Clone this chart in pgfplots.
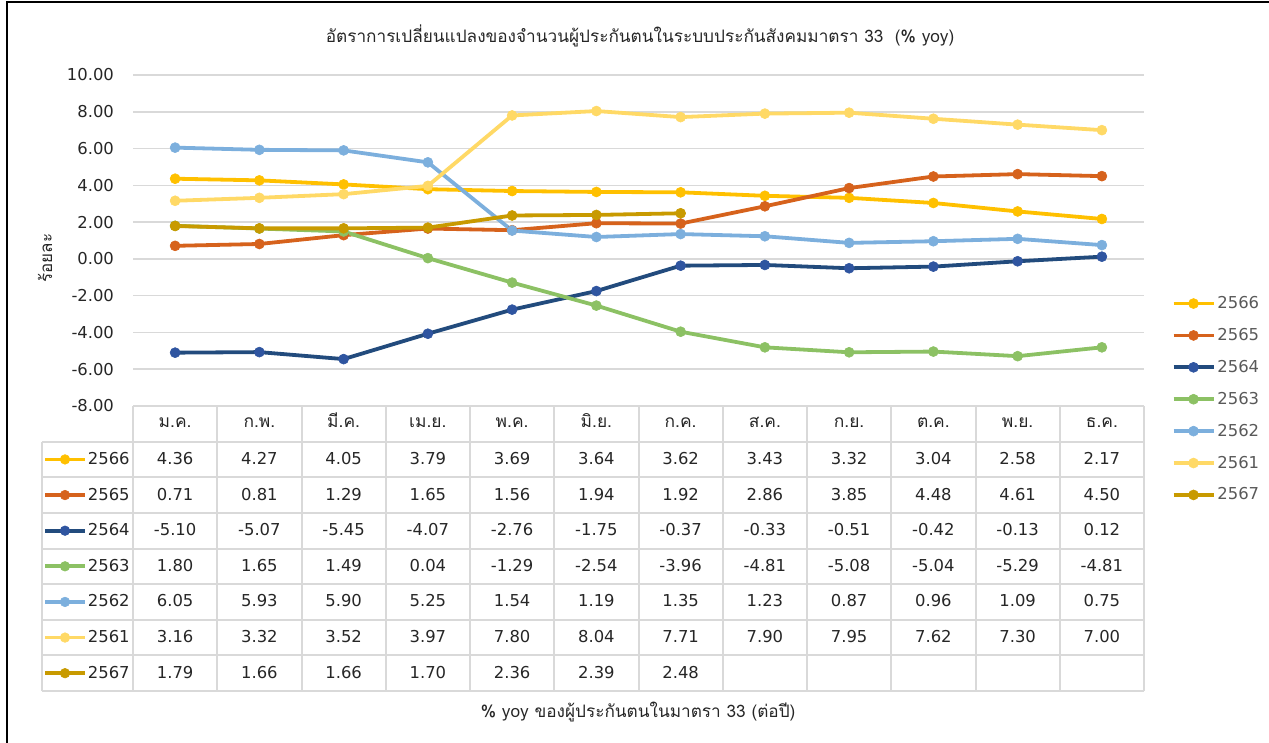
\documentclass[border=0pt]{standalone}
\usepackage{fontspec}
\setmainfont{DejaVu Sans}
\newfontfamily\thaifont[Script=Thai]{Loma}
\usepackage{pgfplots}
\usepackage{pgfplotstable}
\pgfplotsset{compat=1.18}

\definecolor{cA}{RGB}{255,192,0}    % 2566
\definecolor{cB}{RGB}{214,98,28}    % 2565
\definecolor{cC}{RGB}{34,75,125}    % 2564
\definecolor{cCm}{RGB}{47,85,160}
\definecolor{cD}{RGB}{140,193,100}  % 2563
\definecolor{cE}{RGB}{124,175,221}  % 2562
\definecolor{cF}{RGB}{255,217,102}  % 2561
\definecolor{cG}{RGB}{200,154,0}    % 2567
\definecolor{gridc}{RGB}{217,217,217}
\definecolor{legtxt}{RGB}{89,89,89}
\definecolor{txt}{RGB}{38,38,38}

\newcommand\nf{\fontsize{8.2}{10}\selectfont}

% month index, one column per year
\pgfplotstableread{
m y2566 y2565 y2564 y2563 y2562 y2561
0  4.36 0.71 -5.10  1.80 6.05 3.16
1  4.27 0.81 -5.07  1.65 5.93 3.32
2  4.05 1.29 -5.45  1.49 5.90 3.52
3  3.79 1.65 -4.07  0.04 5.25 3.97
4  3.69 1.56 -2.76 -1.29 1.54 7.80
5  3.64 1.94 -1.75 -2.54 1.19 8.04
6  3.62 1.92 -0.37 -3.96 1.35 7.71
7  3.43 2.86 -0.33 -4.81 1.23 7.90
8  3.32 3.85 -0.51 -5.08 0.87 7.95
9  3.04 4.48 -0.42 -5.04 0.96 7.62
10 2.58 4.61 -0.13 -5.29 1.09 7.30
11 2.17 4.50  0.12 -4.81 0.75 7.00
}\dataA
\pgfplotstableread{
m y2567
0 1.79
1 1.66
2 1.66
3 1.70
4 2.36
5 2.39
6 2.48
}\dataB

\pgfplotsset{
  ser/.style={line width=1.9pt, mark=*, mark size=2.5pt, mark options={line width=0.3pt}},
}

\begin{document}
\begin{tikzpicture}
\path[use as bounding box] (0,0) rectangle (634.5pt,371.5pt);
\draw[black, line width=0.8pt] (3.5pt,0) -- (3.5pt,370.5pt) -- (634.5pt,370.5pt);

% ---- chart
\begin{axis}[
  at={(66.5pt,168.5pt)}, anchor=south west,
  width=505.5pt, height=165.5pt, scale only axis,
  xmin=-0.5, xmax=11.5, ymin=-8, ymax=10,
  ytick={-8,-6,...,10},
  xtick={0,...,11},
  xticklabels={ม.ค.,ก.พ.,มี.ค.,เม.ย.,พ.ค.,มิ.ย.,ก.ค.,ส.ค.,ก.ย.,ต.ค.,พ.ย.,ธ.ค.},
  xticklabel style={font=\thaifont\fontsize{8.7}{10}\selectfont, anchor=center, text=txt,
    yshift=-8.5pt, text height=6pt, text depth=1.5pt},
  yticklabel style={font=\nf, anchor=east, xshift=-6pt, text=txt},
  major tick length=0pt,
  axis line style={draw=none},
  ymajorgrids, grid style={gridc, line width=0.8pt},
  /pgf/number format/fixed, /pgf/number format/fixed zerofill,
  /pgf/number format/precision=2, /pgf/number format/assume math mode=true,
  title={\thaifont อัตราการเปลี่ยนแปลงของจำนวนผู้ประกันตนในระบบประกันสังคมมาตรา 33 \ (\% yoy)},
  title style={at={(0.5015,1.083)}, anchor=center, yshift=0pt, text=txt,
    font=\fontsize{8.6}{10}\selectfont},
  ylabel={\thaifont ร้อยละ},
  ylabel style={at={(-0.087,0.447)}, anchor=center, text=txt, font=\fontsize{8.5}{10}\selectfont},
  legend style={at={(1.021,0.35)}, anchor=north west, draw=none, fill=none,
    font=\nf, text=legtxt, row sep=6.95pt,
    nodes={inner sep=1pt, text height=6pt, text depth=1pt}},
  legend cell align=left,
  legend image code/.code={\draw[mark repeat=2, mark phase=2] plot coordinates {(0pt,0pt) (10pt,0pt) (20pt,0pt)};},
]
\addplot[ser, cA] table[x=m, y=y2566] {\dataA}; \addlegendentry{2566}
\addplot[ser, cB] table[x=m, y=y2565] {\dataA}; \addlegendentry{2565}
\addplot[ser, cC, mark options={fill=cCm, draw=cCm, line width=0.3pt}] table[x=m, y=y2564] {\dataA}; \addlegendentry{2564}
\addplot[ser, cD] table[x=m, y=y2563] {\dataA}; \addlegendentry{2563}
\addplot[ser, cE] table[x=m, y=y2562] {\dataA}; \addlegendentry{2562}
\addplot[ser, cF] table[x=m, y=y2561] {\dataA}; \addlegendentry{2561}
\addplot[ser, cG] table[x=m, y=y2567] {\dataB}; \addlegendentry{2567}
\end{axis}

% ---- data table
\begin{axis}[
  at={(21pt,26pt)}, anchor=south west,
  width=551pt, height=142.5pt, scale only axis,
  xmin=-1.5801, xmax=11.5, ymin=0, ymax=8,
  axis line style={draw=none}, xtick=\empty, ytick=\empty,
  clip=false,
  /pgf/number format/fixed, /pgf/number format/fixed zerofill,
  /pgf/number format/precision=2, /pgf/number format/assume math mode=true,
  every node near coord/.append style={anchor=center, font=\nf, text=txt,
    text height=6pt, text depth=1pt, inner sep=0pt},
  tbl/.style={draw=none, mark=none, nodes near coords, point meta=explicit},
  key/.style={line width=1.9pt, mark=*, mark size=2.4pt, mark indices={2},
    mark options={line width=0.3pt}},
]
\pgfplotsinvokeforeach{0,...,12}{
  \draw[gridc, line width=1pt] (axis cs:#1-0.5,0) -- (axis cs:#1-0.5,8);
}
\pgfplotsinvokeforeach{0,...,7}{
  \draw[gridc, line width=1pt] (axis cs:-1.5801,#1) -- (axis cs:11.5,#1);
}
\draw[gridc, line width=1pt] (axis cs:-1.5801,0) -- (axis cs:-1.5801,7);
\draw[gridc, line width=1pt] (axis cs:-0.5,8) -- (axis cs:11.5,8);

\addplot[tbl] table[x=m, y expr=6.5, meta=y2566] {\dataA};
\addplot[tbl] table[x=m, y expr=5.5, meta=y2565] {\dataA};
\addplot[tbl] table[x=m, y expr=4.5, meta=y2564] {\dataA};
\addplot[tbl] table[x=m, y expr=3.5, meta=y2563] {\dataA};
\addplot[tbl] table[x=m, y expr=2.5, meta=y2562] {\dataA};
\addplot[tbl] table[x=m, y expr=1.5, meta=y2561] {\dataA};
\addplot[tbl] table[x=m, y expr=0.5, meta=y2567] {\dataB};

\addplot[key, cA] coordinates {(-1.544,6.5) (-1.307,6.5) (-1.07,6.5)};
\addplot[key, cB] coordinates {(-1.544,5.5) (-1.307,5.5) (-1.07,5.5)};
\addplot[key, cC, mark options={fill=cCm, draw=cCm, line width=0.3pt}] coordinates {(-1.544,4.5) (-1.307,4.5) (-1.07,4.5)};
\addplot[key, cD] coordinates {(-1.544,3.5) (-1.307,3.5) (-1.07,3.5)};
\addplot[key, cE] coordinates {(-1.544,2.5) (-1.307,2.5) (-1.07,2.5)};
\addplot[key, cF] coordinates {(-1.544,1.5) (-1.307,1.5) (-1.07,1.5)};
\addplot[key, cG] coordinates {(-1.544,0.5) (-1.307,0.5) (-1.07,0.5)};
\foreach \yr/\row in {2566/6.5,2565/5.5,2564/4.5,2563/3.5,2562/2.5,2561/1.5,2567/0.5}{
  \edef\tmp{\noexpand\node[anchor=west, font=\noexpand\nf, text=txt, text height=6pt, text depth=1pt, inner sep=0pt] at (axis cs:-1.04,\row) {\yr};}
  \tmp
}
\node[anchor=center, text=txt, font=\thaifont\fontsize{8.6}{10}\selectfont]
  at (rel axis cs:0.541,-0.074) {\% yoy ของผู้ประกันตนในมาตรา 33 (ต่อปี)};
\end{axis}
\end{tikzpicture}
\end{document}
